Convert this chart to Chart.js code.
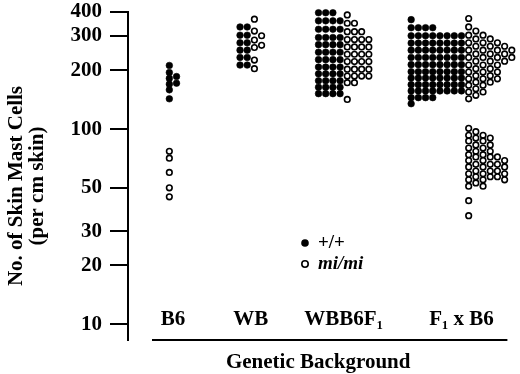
<!DOCTYPE html>
<html>
<head>
<meta charset="utf-8">
<script src="https://cdn.jsdelivr.net/npm/chart.js@4.4.1/dist/chart.umd.min.js"></script>
<style>
    html, body { margin: 0; padding: 0; background: #fff; }
    #wrap { width: 520px; height: 374px; }
</style>
</head>
<body>
<div id="wrap"><canvas id="mastChart"></canvas></div>
<script>
// 分组 (x 轴)
const groups = ['B6', 'WB', 'WBB6F₁', 'F₁ x B6'];
const yTicks = [10, 20, 30, 50, 100, 200, 300, 400];
const yTitle = ['No. of Skin Mast Cells', '(per cm skin)'];

// 每组的点: [数值, 该数值上的点数]
const b6Wild = [[212, 1], [195, 1], [186, 1], [182, 1], [172, 1], [170, 1], [159, 1], [143, 1]];
const b6Mi = [[77, 1], [71, 1], [60, 1], [50, 1], [45, 1]];

const wbWild = [[334, 2], [303, 2], [277, 2], [254, 2], [233, 2], [213, 2]];
const wbMi = [[366, 1], [318, 1], [301, 1], [286, 1], [269, 1], [262, 1], [226, 1], [204, 1]];

const wbb6Wild = [[395, 3], [359, 4], [325, 4], [295, 4], [271, 4], [248, 4], [227, 4], [208, 4],
    [192, 4], [177, 4], [164, 4], [152, 4]];
const wbb6Mi = [[385, 1], [349, 2], [316, 3], [288, 4], [264, 4], [242, 4], [222, 4], [203, 4],
    [187, 4], [173, 2], [142, 1]];

const f1b6Wild = [[364, 1], [331, 4], [301, 8], [276, 8], [254, 8], [233, 8], [214, 8], [197, 8],
    [183, 8], [169, 8], [157, 8], [145, 4], [135, 1]];
const f1b6Mi = [[369, 1], [334, 1], [318, 1], [303, 2], [290, 2], [277, 3], [266, 3], [254, 4],
    [243, 3], [233, 4], [223, 3], [213, 3], [204, 2], [196, 3], [188, 2], [181, 3], [174, 2],
    [168, 2], [161, 1], [155, 2], [149, 1], [143, 1],
    [101, 1], [97, 1], [93, 2], [90, 2], [87, 2], [83, 2], [80, 2], [77, 2], [74, 2], [72, 3],
    [69, 3], [66, 3], [64, 3], [61, 3], [59, 3], [57, 3], [55, 3], [53, 1], [51, 2], [43, 1], [36, 1]];

// 布局 (x 轴单位)
const groupCenters = [45, 123, 216, 334];
const dotStep = 7.2;
const pxPerDecade = 195.5;
const minGap = 5.5;

function expand(rows) {
    const vals = [];
    rows.forEach(([v, n]) => { for (let i = 0; i < n; i++) vals.push(v); });
    return vals.sort((a, b) => b - a);
}

// 简单的蜂群排列: 每个点放在最左边不重叠的列
function swarm(values, startCol) {
    const placed = [];
    values.forEach(v => {
        const y = -Math.log10(v) * pxPerDecade;
        let col = startCol;
        while (placed.some(p => p.col === col && Math.abs(p.y - y) < minGap)) col++;
        placed.push({ col, y, v });
    });
    return placed;
}

const wildPoints = [];
const miPoints = [];
[[b6Wild, b6Mi], [wbWild, wbMi], [wbb6Wild, wbb6Mi], [f1b6Wild, f1b6Mi]].forEach(([wRows, mRows], g) => {
    const wVals = expand(wRows);
    const mVals = expand(mRows);
    const w = swarm(wVals, 0);
    const wCols = Math.max(...w.map(p => p.col)) + 1;
    const overlap = mVals[0] >= wVals[wVals.length - 1] && mVals[mVals.length - 1] <= wVals[0];
    const m = swarm(mVals, overlap ? wCols : 0);
    const total = Math.max(...w.concat(m).map(p => p.col)) + 1;
    const toPt = p => ({ x: groupCenters[g] + (p.col - (total - 1) / 2) * dotStep, y: p.v });
    w.forEach(p => wildPoints.push(toPt(p)));
    m.forEach(p => miPoints.push(toPt(p)));
});

const serif = '"Liberation Serif", "Times New Roman", serif';

// 类别标签, 下划线, 轴标题和图例
const decorPlugin = {
    id: 'decor',
    afterDraw(chart) {
        const { ctx, chartArea, scales } = chart;
        ctx.save();
        ctx.fillStyle = '#000';
        ctx.strokeStyle = '#000';
        ctx.font = 'bold 21px ' + serif;
        ctx.textAlign = 'center';
        ctx.textBaseline = 'alphabetic';
        groups.forEach((g, i) => {
            ctx.fillText(g, scales.x.getPixelForValue(groupCenters[i]), chartArea.bottom - 15);
        });

        ctx.lineWidth = 2;
        ctx.beginPath();
        ctx.moveTo(chartArea.left + 24, chartArea.bottom);
        ctx.lineTo(chartArea.right - 7, chartArea.bottom);
        ctx.stroke();

        ctx.fillText('Genetic Background', (chartArea.left + chartArea.right) / 2 - 3, chartArea.bottom + 28);

        // y 轴标题 (比轴中心稍低)
        ctx.save();
        ctx.translate(0, 186);
        ctx.rotate(-Math.PI / 2);
        ctx.textBaseline = 'middle';
        yTitle.forEach((t, i) => ctx.fillText(t, 0, 17 + i * 21));
        ctx.restore();

        // 图例
        const lx = chartArea.left + 177;
        ctx.textAlign = 'left';
        ctx.textBaseline = 'middle';
        ctx.beginPath();
        ctx.arc(lx, 243, 3.8, 0, Math.PI * 2);
        ctx.fill();
        ctx.lineWidth = 1.6;
        ctx.beginPath();
        ctx.arc(lx, 264, 3.2, 0, Math.PI * 2);
        ctx.stroke();
        ctx.font = 'bold 19px ' + serif;
        ctx.fillText('+/+', lx + 13, 243);
        ctx.font = 'italic bold 19px ' + serif;
        ctx.fillText('mi/mi', lx + 13, 264);
        ctx.restore();
    }
};

new Chart(document.getElementById('mastChart'), {
    type: 'scatter',
    data: {
        datasets: [{
            label: '+/+',
            data: wildPoints,
            backgroundColor: '#000',
            borderColor: '#000',
            borderWidth: 0.6,
            pointRadius: 3.3,
            clip: false
        }, {
            label: 'mi/mi',
            data: miPoints,
            backgroundColor: '#fff',
            borderColor: '#000',
            borderWidth: 1.6,
            pointRadius: 2.8,
            clip: false
        }]
    },
    options: {
        responsive: true,
        maintainAspectRatio: false,
        animation: false,
        layout: { padding: { left: 0, right: 5, top: 0, bottom: 34 } },
        scales: {
            x: {
                type: 'linear',
                min: 0,
                max: 387,
                display: false
            },
            y: {
                type: 'logarithmic',
                min: 8.3,
                max: 400,
                afterBuildTicks: scale => {
                    scale.ticks = yTicks.map(v => ({ value: v }));
                },
                afterFit: scale => {
                    scale.width = 128;
                },
                border: { display: true, color: '#000', width: 2 },
                grid: { drawOnChartArea: false, color: '#000', lineWidth: 2, tickLength: 18 },
                ticks: {
                    autoSkip: false,
                    color: '#000',
                    padding: 8,
                    font: { family: serif, size: 21, weight: 'bold', lineHeight: 0.35 },
                    callback: v => String(v)
                }
            }
        },
        plugins: {
            legend: { display: false },
            tooltip: { enabled: false }
        }
    },
    plugins: [decorPlugin]
});
</script>
</body>
</html>
